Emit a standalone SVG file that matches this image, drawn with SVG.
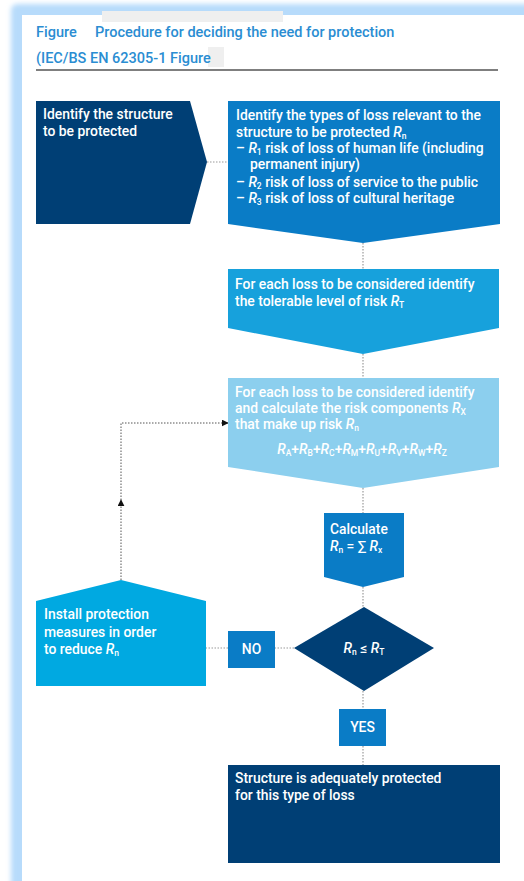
<svg xmlns="http://www.w3.org/2000/svg" width="524" height="881" viewBox="0 0 524 881">
<defs>
<filter id="glow" x="-5%" y="-5%" width="110%" height="110%"><feGaussianBlur stdDeviation="2.5"/></filter>
<marker id="arr" viewBox="0 0 10 10" refX="9" refY="5" markerWidth="7" markerHeight="7" markerUnits="userSpaceOnUse" orient="auto"><path d="M0,0 L10,5 L0,10 z" fill="#111"/></marker>
</defs>
<style>
text{font-family:Roboto,"Liberation Sans",Arial,sans-serif;font-weight:500;fill:#ffffff;font-size:13.9px}
.t{fill:#2a8dd2;font-size:14.5px}
.i{font-style:italic}
.s{font-size:8.5px}
.c{stroke:#9a9a9a;stroke-width:1.2;stroke-dasharray:1.5 1.5;fill:none}
.a{stroke:#555;stroke-width:1;stroke-dasharray:1.5 1.5;fill:none}
.navy{fill:#003f75}
.mid{fill:#0a7cc6}
.sky{fill:#17a1dc}
.pale{fill:#8ccfee}
.cyan{fill:#00a9e1}
</style>
<rect width="524" height="881" fill="#ffffff"/>
<rect x="11" y="4" width="530" height="890" rx="6" fill="#b7dbfb" filter="url(#glow)"/>
<rect x="22" y="15" width="510" height="880" fill="#ffffff"/>
<rect x="102" y="11" width="181" height="11" fill="#efefef"/>
<rect x="208" y="47" width="16" height="20" fill="#efefef"/>

<g id="title">
<text class="t" x="36" y="37">Figure</text>
<text class="t" x="95" y="37">Procedure for deciding the need for protection</text>
<text class="t" x="36" y="63">(IEC/BS EN 62305-1 Figure</text>
<line x1="36" y1="70" x2="498" y2="70" stroke="#555" stroke-width="1.6"/>
</g>

<g id="connectors">
<path class="c" d="M207,162 H228"/>
<path class="c" d="M363,243 V269"/>
<path class="c" d="M363,354 V378"/>
<path class="c" d="M363,488 V513"/>
<path class="c" d="M363,587 V607"/>
<path class="c" d="M294,648 H275"/>
<path class="c" d="M228,648 H206"/>
<path class="c" d="M363,691 V709"/>
<path class="c" d="M363,746 V765"/>
<path class="a" d="M121,580 V500" marker-end="url(#arr)"/>
<path class="a" d="M121,500 V423 H228" marker-end="url(#arr)"/>
</g>

<g id="node-structure">
<path class="navy" d="M36,101 H190 L207,162 L190,224 H36 Z"/>
<text x="43" y="119">Identify the structure</text>
<text x="43" y="136">to be protected</text>
</g>

<g id="node-types">
<path class="mid" d="M228,101 H500 V224 L363,243 L228,224 Z"/>
<text x="236" y="120">Identify the types of loss relevant to the</text>
<text x="236" y="137">structure to be protected <tspan class="i">R</tspan><tspan class="s" dy="2">n</tspan></text>
<text x="236" y="153">–  <tspan class="i">R</tspan><tspan class="s" dy="2">1</tspan><tspan dy="-2"> risk of loss of human life (including</tspan></text>
<text x="250" y="169">permanent injury)</text>
<text x="236" y="187">–  <tspan class="i">R</tspan><tspan class="s" dy="2">2</tspan><tspan dy="-2"> risk of loss of service to the public</tspan></text>
<text x="236" y="203">–  <tspan class="i">R</tspan><tspan class="s" dy="2">3</tspan><tspan dy="-2"> risk of loss of cultural heritage</tspan></text>
</g>

<g id="node-tolerable">
<path class="sky" d="M228,269 H499 V328 L363,354 L228,328 Z"/>
<text x="235" y="289">For each loss to be considered identify</text>
<text x="235" y="306">the tolerable level of risk <tspan class="i">R</tspan><tspan class="s" dy="2">T</tspan></text>
</g>

<g id="node-components">
<path class="pale" d="M228,378 H499 V467 L363,488 L228,467 Z"/>
<text x="235" y="397">For each loss to be considered identify</text>
<text x="235" y="413">and calculate the risk components <tspan class="i">R</tspan><tspan class="s" dy="2">X</tspan></text>
<text x="235" y="429">that make up risk <tspan class="i">R</tspan><tspan class="s" dy="2">n</tspan></text>
<text x="362" y="454" text-anchor="middle"><tspan class="i">R</tspan><tspan class="s" dy="2">A</tspan><tspan dy="-2">+</tspan><tspan class="i">R</tspan><tspan class="s" dy="2">B</tspan><tspan dy="-2">+</tspan><tspan class="i">R</tspan><tspan class="s" dy="2">C</tspan><tspan dy="-2">+</tspan><tspan class="i">R</tspan><tspan class="s" dy="2">M</tspan><tspan dy="-2">+</tspan><tspan class="i">R</tspan><tspan class="s" dy="2">U</tspan><tspan dy="-2">+</tspan><tspan class="i">R</tspan><tspan class="s" dy="2">V</tspan><tspan dy="-2">+</tspan><tspan class="i">R</tspan><tspan class="s" dy="2">W</tspan><tspan dy="-2">+</tspan><tspan class="i">R</tspan><tspan class="s" dy="2">Z</tspan></text>
</g>

<g id="node-calculate">
<path class="mid" d="M324,513 H404 V577 L363,587 L324,577 Z"/>
<text x="330" y="534" style="font-size:13.8px">Calculate</text>
<text x="330" y="551" style="font-size:13.8px"><tspan class="i">R</tspan><tspan class="s" dy="2">n</tspan><tspan dy="-2"> = ∑ </tspan><tspan class="i">R</tspan><tspan class="s" dy="2">x</tspan></text>
</g>

<g id="node-decision">
<path class="navy" d="M364,607 L434,648 L364,691 L294,648 Z"/>
<text x="364" y="653" text-anchor="middle"><tspan class="i">R</tspan><tspan class="s" dy="2">n</tspan><tspan dy="-2"> ≤ </tspan><tspan class="i">R</tspan><tspan class="s" dy="2">T</tspan></text>
</g>

<g id="node-no">
<rect class="mid" x="228" y="631" width="47" height="37"/>
<text x="251.5" y="654" text-anchor="middle">NO</text>
</g>

<g id="node-install">
<path class="cyan" d="M36,601 L121,580 L206,601 V686 H36 Z"/>
<text x="44" y="619">Install protection</text>
<text x="44" y="637">measures in order</text>
<text x="44" y="654">to reduce <tspan class="i">R</tspan><tspan class="s" dy="2">n</tspan></text>
</g>

<g id="node-yes">
<rect class="mid" x="339" y="709" width="47" height="37"/>
<text x="362.5" y="732" text-anchor="middle">YES</text>
</g>

<g id="node-protected">
<rect class="navy" x="228" y="765" width="272" height="98"/>
<text x="235" y="783">Structure is adequately protected</text>
<text x="235" y="800">for this type of loss</text>
</g>
</svg>
